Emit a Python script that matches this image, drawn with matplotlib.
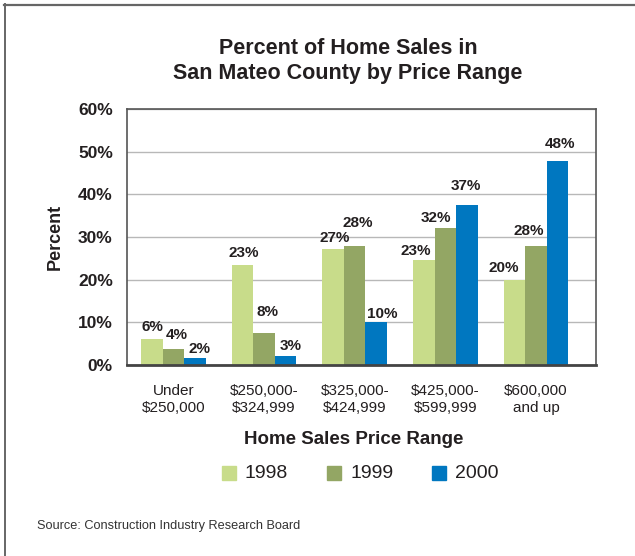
import matplotlib
matplotlib.use("Agg")
import matplotlib.pyplot as plt
from matplotlib.lines import Line2D
from matplotlib.patches import Rectangle
import numpy as np

categories = ["Under\n$250,000", "$250,000-\n$324,999", "$325,000-\n$424,999",
              "$425,000-\n$599,999", "$600,000\nand up"]
years = ["1998", "1999", "2000"]
values_1998 = [6.0, 23.4, 27.1, 24.5, 19.9]
values_1999 = [3.7, 7.4, 27.8, 32.0, 28.0]
values_2000 = [1.6, 2.0, 10.0, 37.6, 47.7]
labels_1998 = ["6%", "23%", "27%", "23%", "20%"]
labels_1999 = ["4%", "8%", "28%", "32%", "28%"]
labels_2000 = ["2%", "3%", "10%", "37%", "48%"]
colors = ["#c8dc8a", "#93a664", "#0077c0"]
y_ticks = [0, 10, 20, 30, 40, 50, 60]

# hand placement of the value labels (pixels from bar centre / bar top)
label_dx = [[1, 1.7, 1, -8, -10.5], [3.7, 3.3, 3, -9.5, -7.5], [5, 5, 6, -1, 2.5]]
label_gap = [[8.7, 8, 7, 5, 8.3], [10.7, 17.7, 19.7, 6.3, 10.7], [4.7, 6.7, 4, 14.3, 13.3]]

plt.rcParams["font.family"] = ["Liberation Sans", "DejaVu Sans"]
text_color = "#231f20"

fig = plt.figure(figsize=(6.35, 5.56), dpi=100)
ax = fig.add_axes([126.7 / 635, 191 / 556, 469 / 635, 256 / 556])

x = np.arange(len(categories))
width = 0.237
series = [(values_1998, labels_1998), (values_1999, labels_1999), (values_2000, labels_2000)]
for k, (vals, labs) in enumerate(series):
    pos = x + (k - 1) * width
    ax.bar(pos, vals, width=width, color=colors[k], zorder=3)
    for i, (px_, v, lab) in enumerate(zip(pos, vals, labs)):
        ax.annotate(lab, (px_, v), xytext=(label_dx[k][i], label_gap[k][i]),
                    textcoords="offset pixels", ha="center", va="baseline",
                    fontsize=11, fontweight="bold", color=text_color, zorder=4)

ax.set_xlim(-0.514, 4.657)
ax.set_ylim(0, 60)
ax.set_yticks(y_ticks)
ax.set_yticklabels([f"{t}%" for t in y_ticks], fontsize=12.5, fontweight="bold", color=text_color)
ax.set_xticks(x)
ax.set_xticklabels(categories, fontsize=11, color=text_color, linespacing=1.25)
ax.tick_params(axis="both", length=0)
ax.tick_params(axis="y", pad=10)
ax.tick_params(axis="x", pad=14)
ax.grid(axis="y", color="#b8b8b8", linewidth=1.0, zorder=0)
for side in ["left", "top", "right"]:
    ax.spines[side].set_color("#555555")
    ax.spines[side].set_linewidth(1.2)
ax.spines["bottom"].set_color("#444444")
ax.spines["bottom"].set_linewidth(2.0)
ax.spines["bottom"].set_zorder(5)

ax.set_ylabel("Percent", fontsize=13, fontweight="bold", color=text_color, labelpad=10)

fig.text(348 / 635, 1 - 61 / 556, "Percent of Home Sales in\nSan Mateo County by Price Range",
         ha="center", va="center", fontsize=15.5, fontweight="bold", color=text_color,
         linespacing=1.3)
fig.text(354 / 635, 1 - 440 / 556, "Home Sales Price Range", ha="center", va="center",
         fontsize=13.5, fontweight="bold", color=text_color)

# legend
for k, (sx, year) in enumerate(zip([222, 327, 432], years)):
    fig.patches.append(Rectangle((sx / 635, 1 - 480 / 556), 14 / 635, 14 / 556,
                                 transform=fig.transFigure, color=colors[k]))
    fig.text((sx + 23) / 635, 1 - 473.5 / 556, year, ha="left", va="center",
             fontsize=14, color=text_color)

fig.text(37 / 635, 1 - 526 / 556, "Source: Construction Industry Research Board",
         ha="left", va="center", fontsize=9.2, color="#333333")

# page border (top and left)
fig.add_artist(Line2D([4 / 635, 1], [1 - 5 / 556, 1 - 5 / 556], transform=fig.transFigure,
                      color="#666666", linewidth=1.6))
fig.add_artist(Line2D([5 / 635, 5 / 635], [0, 1 - 4 / 556], transform=fig.transFigure,
                      color="#666666", linewidth=1.4))

fig.savefig("out.png", dpi=100)
